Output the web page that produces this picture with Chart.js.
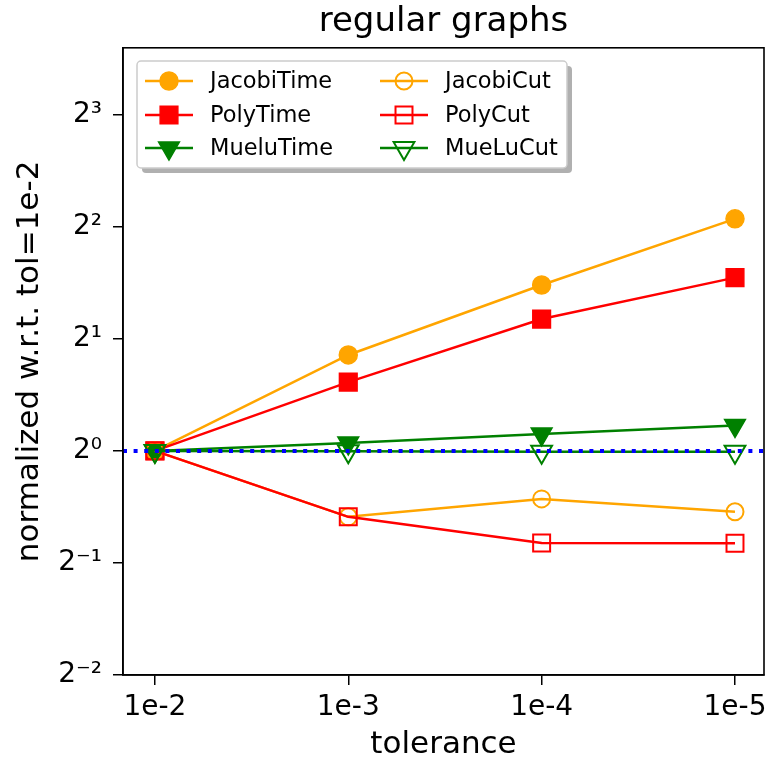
<!DOCTYPE html>
<html>
<head>
<meta charset="utf-8">
<script src="https://cdn.jsdelivr.net/npm/chart.js@4.4.1/dist/chart.umd.min.js"></script>
<style>
  body { margin: 0; background: white; }
</style>
</head>
<body>
<canvas id="myChart" width="768" height="762"></canvas>
<script>
// values (normalized w.r.t. tol=1e-2)
var tolerances = ['1e-2', '1e-3', '1e-4', '1e-5'];
var jacobiTime = [1, 1.81, 2.79, 4.20];
var polyTime   = [1, 1.53, 2.26, 2.92];
var mueluTime  = [1, 1.05, 1.11, 1.17];
var jacobiCut  = [1, 0.665, 0.743, 0.686];
var polyCut    = [1, 0.665, 0.566, 0.565];
var mueluCut   = [1, 0.997, 0.995, 0.994];
var refLevel = 1;
var yTickPowers = [-2, -1, 0, 1, 2, 3];
var yTickLabels = ['2\u207B\u00B2', '2\u207B\u00B9', '2\u2070', '2\u00B9', '2\u00B2', '2\u00B3'];

var xMin = -0.165, xMax = 3.15, yMin = 0.25, yMax = 12.1;
var FONT = "'DejaVu Sans', sans-serif";

var pts = arr => arr.map((v, i) => ({x: i, y: v}));
var series = (label, arr, color, style, radius, filled, rot, order) => ({
    label: label,
    data: pts(arr),
    borderColor: color,
    backgroundColor: color,
    pointBackgroundColor: filled ? color : 'rgba(0,0,0,0)',
    pointBorderColor: color,
    pointStyle: style,
    pointRadius: radius,
    pointHoverRadius: radius,
    pointRotation: rot || 0,
    pointBorderWidth: filled ? 1.5 : 2,
    borderWidth: 2.5,
    tension: 0,
    order: order,
    inLegend: true
});

var datasets = [
    series('JacobiTime', jacobiTime, 'orange', 'circle', 9, true, 0, 7),
    series('PolyTime', polyTime, 'red', 'rect', 12.5, true, 0, 6),
    series('MueluTime', mueluTime, 'green', 'triangle', 12, true, 180, 5),
    series('JacobiCut', jacobiCut, 'orange', 'circle', 8.5, false, 0, 4),
    series('PolyCut', polyCut, 'red', 'rect', 12, false, 0, 3),
    series('MueLuCut', mueluCut, 'green', 'triangle', 12, false, 180, 2),
    {
        label: 'ref',
        data: [{x: xMin, y: refLevel}, {x: xMax, y: refLevel}],
        borderColor: 'blue',
        borderWidth: 4,
        borderDash: [4, 6.6],
        borderCapStyle: 'butt',
        pointRadius: 0,
        order: 1
    }
];

// box around plot area
var frame = {
    id: 'frame',
    afterDatasetsDraw(chart) {
        var a = chart.chartArea, ctx = chart.ctx;
        ctx.save();
        ctx.strokeStyle = 'black';
        ctx.lineWidth = 1.6;
        ctx.strokeRect(a.left, a.top, a.right - a.left, a.bottom - a.top);
        ctx.restore();
    }
};

// matplotlib style legend, 2 columns with shadow
var legendBox = {
    id: 'legendBox',
    afterDraw(chart) {
        var ctx = chart.ctx;
        var x0 = 137, y0 = 61, w = 430, h = 107;
        var box = (x, y) => {
            ctx.beginPath();
            ctx.roundRect(x, y, w, h, 4);
        };
        ctx.save();
        ctx.fillStyle = '#b0b0b0';
        box(x0 + 5, y0 + 5);
        ctx.fill();
        ctx.fillStyle = 'white';
        ctx.strokeStyle = '#cccccc';
        ctx.lineWidth = 1.5;
        box(x0, y0);
        ctx.fill();
        ctx.stroke();

        var items = chart.data.datasets.filter(d => d.inLegend);
        var colX = [145, 380], rowY = [81, 115, 148];
        ctx.font = "22.5px " + FONT;
        ctx.textBaseline = 'middle';
        items.forEach((d, i) => {
            var cx = colX[Math.floor(i / 3)], cy = rowY[i % 3];
            ctx.strokeStyle = d.borderColor;
            ctx.lineWidth = d.borderWidth;
            ctx.beginPath();
            ctx.moveTo(cx, cy);
            ctx.lineTo(cx + 48, cy);
            ctx.stroke();
            ctx.fillStyle = d.pointBackgroundColor;
            ctx.strokeStyle = d.pointBorderColor;
            ctx.lineWidth = d.pointBorderWidth;
            Chart.helpers.drawPoint(ctx, {
                pointStyle: d.pointStyle,
                rotation: d.pointRotation,
                radius: d.pointRadius,
                borderWidth: d.pointBorderWidth
            }, cx + 24, cy);
            ctx.fillStyle = 'black';
            ctx.fillText(d.label, cx + 65, cy + 1);
        });
        ctx.restore();
    }
};

var ctx = document.getElementById('myChart').getContext('2d');
var chart = new Chart(ctx, {
    type: 'line',
    data: { datasets: datasets },
    plugins: [frame, legendBox],
    options: {
        responsive: false,
        animation: false,
        devicePixelRatio: 1,
        layout: { autoPadding: false, padding: { left: 0, right: 4, top: 0, bottom: 0 } },
        plugins: {
            legend: { display: false },
            tooltip: { enabled: false },
            title: {
                display: true,
                fullSize: false,
                text: 'regular graphs',
                color: 'black',
                font: { family: FONT, size: 34, weight: 'normal', lineHeight: 1.2 },
                padding: { top: 2, bottom: 5 }
            }
        },
        scales: {
            x: {
                type: 'linear',
                min: xMin,
                max: xMax,
                afterBuildTicks: s => { s.ticks = tolerances.map((t, i) => ({value: i})); },
                afterFit: s => { s.height = 87; s.paddingLeft = 0; s.paddingRight = 0; },
                ticks: {
                    autoSkip: false,
                    maxRotation: 0,
                    color: 'black',
                    padding: 6,
                    font: { family: FONT, size: 28 },
                    callback: v => tolerances[v]
                },
                grid: { drawOnChartArea: false, tickLength: 10, color: 'black', lineWidth: 1.5 },
                border: { color: 'black', width: 1.6 },
                title: {
                    display: true,
                    text: 'tolerance',
                    color: 'black',
                    font: { family: FONT, size: 31, lineHeight: 1.1 },
                    padding: { top: 0, bottom: 0 }
                }
            },
            y: {
                type: 'logarithmic',
                min: yMin,
                max: yMax,
                afterBuildTicks: s => { s.ticks = yTickPowers.map(p => ({value: Math.pow(2, p)})); },
                afterFit: s => { s.width = 123; s.paddingTop = 0; s.paddingBottom = 0; },
                ticks: {
                    autoSkip: false,
                    color: 'black',
                    padding: 11,
                    font: { family: FONT, size: 28 },
                    callback: v => {
                        var i = yTickPowers.indexOf(Math.round(Math.log2(v)));
                        return i >= 0 ? yTickLabels[i] : '';
                    }
                },
                grid: { drawOnChartArea: false, tickLength: 10, color: 'black', lineWidth: 1.5 },
                border: { color: 'black', width: 1.6 },
                title: {
                    display: true,
                    text: 'normalized w.r.t. tol=1e-2',
                    color: 'black',
                    font: { family: FONT, size: 31, lineHeight: 1.2 },
                    padding: { top: 11, bottom: 0 }
                }
            }
        }
    }
});
</script>
</body>
</html>
